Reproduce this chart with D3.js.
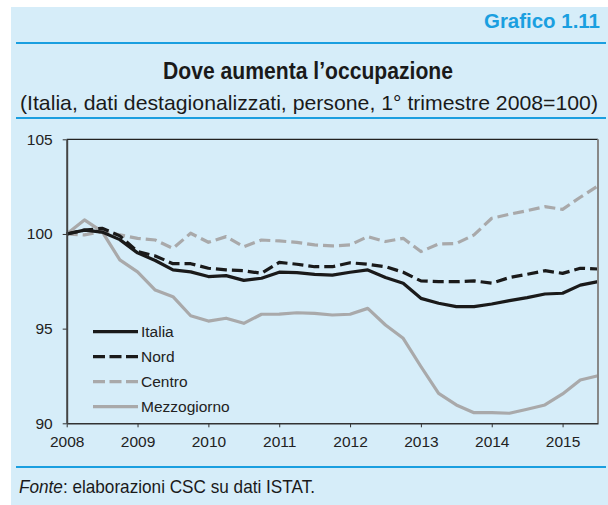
<!DOCTYPE html>
<html>
<head>
<meta charset="utf-8">
<script src="https://cdn.jsdelivr.net/npm/d3@7"></script>
<style>
  body { margin: 0; background: #fff; }
  svg { display: block; }
</style>
</head>
<body>
<svg id="canvas"></svg>
<script>
// trimestri dal 1° 2008 al 3° 2015
let quarters = d3.range(31).map(i => 2008 + i * 0.25)

let italia = [100, 100.2, 100.1, 99.7, 99.0, 98.6, 98.1, 98.0, 97.75, 97.8, 97.55, 97.66, 97.98, 97.96, 97.87, 97.83,
  97.98, 98.1, 97.7, 97.4, 96.6, 96.34, 96.16, 96.16, 96.3, 96.48, 96.64, 96.83, 96.87, 97.3, 97.48]
let nord = [100, 100.2, 100.3, 99.9, 99.07, 98.84, 98.43, 98.43, 98.19, 98.1, 98.06, 97.92, 98.5, 98.4, 98.27, 98.27,
  98.48, 98.4, 98.27, 97.98, 97.52, 97.48, 97.48, 97.52, 97.4, 97.7, 97.87, 98.06, 97.92, 98.19, 98.15]
let centro = [100, 99.95, 100.12, 99.95, 99.77, 99.68, 99.24, 100.04, 99.56, 99.86, 99.33, 99.68, 99.63, 99.56, 99.42, 99.37,
  99.42, 99.86, 99.6, 99.77, 99.07, 99.47, 99.5, 99.95, 100.83, 101.04, 101.23, 101.44, 101.3, 101.94, 102.54]
let mezzogiorno = [100, 100.74, 100.12, 98.63, 98.0, 97.04, 96.69, 95.68, 95.4, 95.55, 95.28, 95.76, 95.77, 95.84, 95.81, 95.72,
  95.76, 96.07, 95.19, 94.49, 93.0, 91.58, 90.97, 90.56, 90.56, 90.53, 90.74, 90.97, 91.55, 92.29, 92.51]

let seriesNames = ['Italia', 'Nord', 'Centro', 'Mezzogiorno']
let xTicks = [2008, 2009, 2010, 2011, 2012, 2013, 2014, 2015]
let yTicks = [90, 95, 100, 105]

let width = 608
let height = 505
let plotLeft = 66.7, plotRight = 598, plotTop = 139.3, plotBottom = 423.3

let blue = '#1a9fe0'
let bg = '#d6edf9'
let grey = '#a9a9aa'
let narrow = 'Liberation Sans Narrow, Liberation Sans, sans-serif'

let styles = {
  Italia: {color: '#1a1a1a', dash: null},
  Nord: {color: '#1a1a1a', dash: '11,5'},
  Centro: {color: grey, dash: '11,5'},
  Mezzogiorno: {color: grey, dash: null}
}

let svg = d3.select('#canvas').attr('width', width).attr('height', height)

let xScale = d3.scaleLinear().domain([2008, 2015.5]).range([plotLeft, plotRight])
let yScale = d3.scaleLinear().domain([90, 105]).range([plotBottom, plotTop])

let drawFrame = () => {
  svg.append('rect').attr('x', 11).attr('y', 7).attr('width', width - 11).attr('height', height - 7).attr('fill', bg)

  svg.append('text').attr('x', 600).attr('y', 28).attr('text-anchor', 'end')
    .attr('font-family', narrow).attr('font-weight', 'bold')
    .attr('font-size', 21).attr('fill', blue)
    .attr('textLength', 116).attr('lengthAdjust', 'spacingAndGlyphs')
    .text('Grafico 1.11')

  svg.append('line').attr('x1', 16).attr('x2', 606).attr('y1', 43).attr('y2', 43).attr('stroke', blue).attr('stroke-width', 2)

  svg.append('text').attr('x', 308).attr('y', 79).attr('text-anchor', 'middle')
    .attr('font-family', narrow).attr('font-weight', 'bold')
    .attr('font-size', 24).attr('fill', '#1a1a1a')
    .attr('textLength', 290).attr('lengthAdjust', 'spacingAndGlyphs')
    .text('Dove aumenta l\u2019occupazione')

  svg.append('text').attr('x', 309).attr('y', 110).attr('text-anchor', 'middle')
    .attr('font-family', narrow)
    .attr('font-size', 21).attr('fill', '#1a1a1a')
    .attr('textLength', 578).attr('lengthAdjust', 'spacingAndGlyphs')
    .text('(Italia, dati destagionalizzati, persone, 1\u00b0 trimestre 2008=100)')

  svg.append('line').attr('x1', 16).attr('x2', 606).attr('y1', 118).attr('y2', 118).attr('stroke', blue).attr('stroke-width', 2)

  svg.append('line').attr('x1', 16).attr('x2', 606).attr('y1', 467).attr('y2', 467).attr('stroke', blue).attr('stroke-width', 2)

  let fonte = svg.append('text').attr('x', 19).attr('y', 493)
    .attr('font-family', narrow)
    .attr('font-size', 18.5).attr('fill', '#1a1a1a')
    .attr('textLength', 296).attr('lengthAdjust', 'spacingAndGlyphs')
  fonte.append('tspan').attr('font-style', 'italic').text('Fonte')
  fonte.append('tspan').text(': elaborazioni CSC su dati ISTAT.')
}

let generateAxes = () => {
  // bordo superiore e destro
  svg.append('line').attr('x1', plotLeft).attr('x2', plotRight).attr('y1', plotTop).attr('y2', plotTop).attr('stroke', '#222').attr('stroke-width', 1.2)
  svg.append('line').attr('x1', plotRight).attr('x2', plotRight).attr('y1', plotTop).attr('y2', plotBottom).attr('stroke', '#888').attr('stroke-width', 2)

  let xAxis = d3.axisBottom(xScale).tickValues(xTicks).tickFormat(d3.format('d')).tickSize(4).tickSizeOuter(0)
  let gx = svg.append('g').attr('id', 'x-axis').attr('transform', 'translate(0,' + plotBottom + ')').call(xAxis)
  gx.select('.domain').attr('stroke', '#333').attr('stroke-width', 1.5)
  gx.selectAll('.tick line').attr('stroke', '#333')
  gx.selectAll('text').attr('font-family', 'Liberation Sans, Arial, sans-serif').attr('font-size', 15.5).attr('fill', '#222').attr('dy', '1.05em')

  let yAxis = d3.axisLeft(yScale).tickValues(yTicks).tickSize(4).tickSizeOuter(0)
  let gy = svg.append('g').attr('id', 'y-axis').attr('transform', 'translate(' + plotLeft + ',0)').call(yAxis)
  gy.select('.domain').attr('stroke', '#444').attr('stroke-width', 2)
  gy.selectAll('.tick line').attr('stroke', '#333')
  gy.selectAll('text').attr('font-family', 'Liberation Sans, Arial, sans-serif').attr('font-size', 15.5).attr('fill', '#222').attr('x', -14)
}

let drawLines = () => {
  let data = {Italia: italia, Nord: nord, Centro: centro, Mezzogiorno: mezzogiorno}
  let line = d3.line().x((d, i) => xScale(quarters[i])).y(d => yScale(d))
  // ordine: prima i grigi, poi i neri
  ;['Mezzogiorno', 'Centro', 'Nord', 'Italia'].forEach(name => {
    svg.append('path').datum(data[name])
      .attr('d', line)
      .attr('fill', 'none')
      .attr('stroke', styles[name].color)
      .attr('stroke-width', 3.2)
      .attr('stroke-linejoin', 'round')
      .attr('stroke-dasharray', styles[name].dash)
  })
}

let generateLegend = () => {
  let legend = svg.append('g').attr('id', 'legend')
  seriesNames.forEach((name, i) => {
    let y = 331.7 + i * 25
    legend.append('line').attr('x1', 93).attr('x2', 138).attr('y1', y).attr('y2', y)
      .attr('stroke', styles[name].color).attr('stroke-width', 3.2)
      .attr('stroke-dasharray', styles[name].dash ? '12,4.5' : null)
    legend.append('text').attr('x', 141).attr('y', y).attr('dy', '0.36em')
      .attr('font-family', 'Liberation Sans, Arial, sans-serif').attr('font-size', 15.5).attr('fill', '#222')
      .text(name)
  })
}

drawFrame()
drawLines()
generateAxes()
generateLegend()
</script>
</body>
</html>
